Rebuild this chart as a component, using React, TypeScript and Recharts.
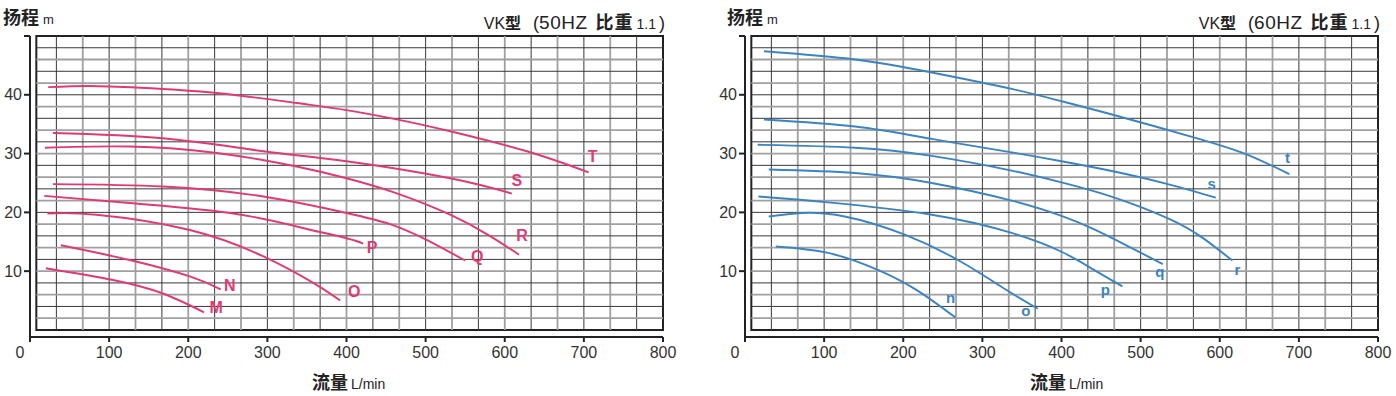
import React from 'react'
import { LineChart, Line, XAxis, YAxis, ReferenceLine, ReferenceArea } from 'recharts'

// flow (L/min) vs head (m)
const curveM = [{ q: 20, h: 10.5 }, { q: 105, h: 8.5 }, { q: 168, h: 6.2 }, { q: 220, h: 3.0 }]
const curveN = [{ q: 39, h: 14.4 }, { q: 126, h: 11.9 }, { q: 202, h: 9.1 }, { q: 241, h: 6.9 }]
const curveO = [{ q: 22, h: 19.8 }, { q: 84, h: 19.6 }, { q: 202, h: 17.0 }, { q: 295, h: 12.5 }, { q: 358, h: 8.0 }, { q: 392, h: 5.0 }]
const curveP = [{ q: 18, h: 22.8 }, { q: 126, h: 21.6 }, { q: 253, h: 19.9 }, { q: 337, h: 17.6 }, { q: 400, h: 15.6 }, { q: 421, h: 14.7 }]
const curveQ = [{ q: 29, h: 24.8 }, { q: 168, h: 24.4 }, { q: 295, h: 22.7 }, { q: 400, h: 19.9 }, { q: 455, h: 18.0 }, { q: 500, h: 15.4 }, { q: 550, h: 11.8 }]
const curveR = [{ q: 19, h: 31.0 }, { q: 126, h: 31.2 }, { q: 236, h: 30.1 }, { q: 337, h: 27.8 }, { q: 400, h: 25.8 }, { q: 460, h: 23.4 }, { q: 531, h: 19.6 }, { q: 581, h: 16.0 }, { q: 618, h: 12.8 }]
const curveS = [{ q: 29, h: 33.5 }, { q: 168, h: 32.6 }, { q: 295, h: 30.4 }, { q: 400, h: 28.7 }, { q: 531, h: 25.8 }, { q: 609, h: 23.2 }]
const curveT = [{ q: 23, h: 41.3 }, { q: 75, h: 41.5 }, { q: 139, h: 41.2 }, { q: 236, h: 40.3 }, { q: 337, h: 38.6 }, { q: 400, h: 37.4 }, { q: 468, h: 35.7 }, { q: 531, h: 33.8 }, { q: 628, h: 30.4 }, { q: 706, h: 26.8 }]

const curve_n = [{ q: 39, h: 14.2 }, { q: 105, h: 13.1 }, { q: 168, h: 10.2 }, { q: 219, h: 6.6 }, { q: 266, h: 2.1 }]
const curve_o = [{ q: 30, h: 19.3 }, { q: 72, h: 19.9 }, { q: 126, h: 19.3 }, { q: 202, h: 16.2 }, { q: 273, h: 11.6 }, { q: 328, h: 7.0 }, { q: 370, h: 3.6 }]
const curve_p = [{ q: 17, h: 22.7 }, { q: 105, h: 21.7 }, { q: 236, h: 19.6 }, { q: 337, h: 16.5 }, { q: 400, h: 13.3 }, { q: 440, h: 10.3 }, { q: 477, h: 7.4 }]
const curve_q = [{ q: 30, h: 27.3 }, { q: 139, h: 26.7 }, { q: 236, h: 25.0 }, { q: 337, h: 22.0 }, { q: 400, h: 19.4 }, { q: 440, h: 17.2 }, { q: 482, h: 14.4 }, { q: 528, h: 11.2 }]
const curve_r = [{ q: 16, h: 31.5 }, { q: 139, h: 31.0 }, { q: 236, h: 29.6 }, { q: 337, h: 27.1 }, { q: 400, h: 25.1 }, { q: 465, h: 22.6 }, { q: 536, h: 18.9 }, { q: 578, h: 15.7 }, { q: 616, h: 11.8 }]
const curve_s = [{ q: 24, h: 35.8 }, { q: 139, h: 34.6 }, { q: 236, h: 32.5 }, { q: 337, h: 30.2 }, { q: 400, h: 28.7 }, { q: 465, h: 27.0 }, { q: 532, h: 24.9 }, { q: 595, h: 22.5 }]
const curve_t = [{ q: 24, h: 47.4 }, { q: 139, h: 46.0 }, { q: 236, h: 43.8 }, { q: 337, h: 41.0 }, { q: 400, h: 38.9 }, { q: 465, h: 36.6 }, { q: 566, h: 32.8 }, { q: 633, h: 29.9 }, { q: 688, h: 26.5 }]

const xTicks = [0, 100, 200, 300, 400, 500, 600, 700, 800]
const yTicks = [10, 20, 30, 40, 50]

// label offsets (px) from the last point of each curve
const curves50 = [
  { name: 'M', data: curveM, dx: 12, dy: -5 },
  { name: 'N', data: curveN, dx: 9, dy: -4 },
  { name: 'O', data: curveO, dx: 14, dy: -9 },
  { name: 'P', data: curveP, dx: 9, dy: 4 },
  { name: 'Q', data: curveQ, dx: 12, dy: -4 },
  { name: 'R', data: curveR, dx: 3, dy: -19 },
  { name: 'S', data: curveS, dx: 5, dy: -13 },
  { name: 'T', data: curveT, dx: 4, dy: -16 },
]
const curves60 = [
  { name: 'n', data: curve_n, dx: -5, dy: -20 },
  { name: 'o', data: curve_o, dx: -12, dy: 2 },
  { name: 'p', data: curve_p, dx: -17, dy: 3 },
  { name: 'q', data: curve_q, dx: -3, dy: 8 },
  { name: 'r', data: curve_r, dx: 5, dy: 9 },
  { name: 's', data: curve_s, dx: -4, dy: -14 },
  { name: 't', data: curve_t, dx: -2, dy: -16 },
]

const FONT = "'Liberation Sans', Arial, 'Noto Sans CJK SC', sans-serif"
const gridX: number[] = []
for (let k = 1; k < 24; k++) gridX.push((k * 100) / 3)
const gridY: number[] = []
for (let v = 2; v < 50; v += 2) gridY.push(v)

const XTick = ({ x, y, payload }: any) => (
  <text x={payload.value === 0 ? x - 10 : x} y={y} dy="0.71em" textAnchor="middle" fontSize={16} fill="#333" fontFamily={FONT}>
    {payload.value}
  </text>
)

const YTick = ({ x, y, payload }: any) =>
  payload.value === 50 ? <g /> : (
    <text x={x} y={y} dy="0.355em" textAnchor="end" fontSize={16} fill="#333" fontFamily={FONT}>
      {payload.value}
    </text>
  )

const makeEndLabel = (len: number, text: string, dx: number, dy: number, color: string, bold: boolean) =>
  (props: any) => {
    if (props.index !== len - 1) return null
    return (
      <text
        key={text}
        x={props.x + dx}
        y={props.y + dy}
        dy="0.35em"
        textAnchor="middle"
        fontSize={bold ? 16 : 15}
        fontWeight={700}
        fill={color}
        fontFamily={FONT}
      >
        {text}
      </text>
    )
  }

interface PumpChartProps {
  curves: { name: string; data: { q: number; h: number }[]; dx: number; dy: number }[]
  color: string
  width: number
  bold: boolean
}

const PumpChart: React.FC<PumpChartProps> = ({ curves, color, width, bold }) => (
  <LineChart width={width} height={396} margin={{ top: 36, right: width - 663, left: 0, bottom: 29 }}>
    <XAxis
      type="number"
      dataKey="q"
      domain={[0, 800]}
      ticks={xTicks}
      allowDataOverflow
      axisLine={{ stroke: '#222', strokeWidth: 2 }}
      tickLine={{ stroke: '#222', strokeWidth: 2 }}
      tickSize={5}
      tickMargin={5}
      height={30}
      tick={<XTick />}
    />
    <YAxis
      type="number"
      dataKey="h"
      domain={[-1.2, 50]}
      ticks={yTicks}
      allowDataOverflow
      axisLine={{ stroke: '#222', strokeWidth: 2 }}
      tickLine={{ stroke: '#222', strokeWidth: 2 }}
      tickSize={6}
      tickMargin={2}
      width={30}
      tick={<YTick />}
    />
    {gridX.map((v, i) => (
      <ReferenceLine
        key={'gx' + i}
        segment={[{ x: v, y: 0 }, { x: v, y: 50 }]}
        stroke={i % 2 === 0 ? '#383838' : '#a0a0a0'}
        strokeWidth={i % 2 === 0 ? 1 : 1.8}
      />
    ))}
    {gridY.map((v) => (
      <ReferenceLine
        key={'gy' + v}
        segment={[{ x: 8, y: v }, { x: 800, y: v }]}
        stroke={v % 4 === 0 ? '#383838' : '#a0a0a0'}
        strokeWidth={v % 4 === 0 ? 1 : 1.8}
      />
    ))}
    <ReferenceArea x1={8} x2={800} y1={0} y2={50} fill="none" fillOpacity={0} stroke="#222" strokeWidth={2} />
    {curves.map((c) => (
      <Line
        key={c.name}
        data={c.data}
        dataKey="h"
        type="natural"
        stroke={color}
        strokeWidth={1.9}
        dot={false}
        activeDot={false}
        isAnimationActive={false}
        label={makeEndLabel(c.data.length, c.name, c.dx, c.dy, color, bold)}
      />
    ))}
  </LineChart>
)

const Header: React.FC<{ left: number; right: number; hz: string }> = ({ left, right, hz }) => (
  <>
    <div style={{ position: 'absolute', left: left + 3, top: 3, fontFamily: FONT, color: '#222', whiteSpace: 'nowrap' }}>
      <span style={{ fontSize: 18, fontWeight: 700 }}>扬程</span>
      <span style={{ fontSize: 13, marginLeft: 4 }}>m</span>
    </div>
    <div style={{ position: 'absolute', left: right - 300, width: 300, top: 8, textAlign: 'right', fontFamily: FONT, color: '#222', whiteSpace: 'nowrap', fontSize: 18 }}>
      <span style={{ fontSize: 16 }}>VK</span>
      <span style={{ fontSize: 16, fontWeight: 700 }}>型</span>
      <span style={{ marginLeft: 12 }}>(</span>
      <span style={{ fontSize: 19, letterSpacing: 0.5 }}>{hz}</span>
      <span style={{ fontWeight: 700, marginLeft: 8, letterSpacing: 1 }}>比重</span>
      <span style={{ fontSize: 14, marginLeft: 3 }}>1.1</span>
      <span style={{ marginLeft: 3 }}>)</span>
    </div>
  </>
)

const XTitle: React.FC<{ left: number }> = ({ left }) => (
  <div style={{ position: 'absolute', left, top: 368, fontFamily: FONT, color: '#222', whiteSpace: 'nowrap' }}>
    <span style={{ fontSize: 18, fontWeight: 700 }}>流量</span>
    <span style={{ fontSize: 14, marginLeft: 3 }}>L/min</span>
  </div>
)

export default function App() {
  return (
    <div style={{ position: 'absolute', left: 0, top: 0, width: 1396, height: 396, background: '#fff', overflow: 'hidden' }}>
      <div style={{ position: 'absolute', left: 0, top: 0 }}>
        <PumpChart curves={curves50} color="#e03a72" width={698} bold />
      </div>
      <div style={{ position: 'absolute', left: 715, top: 0 }}>
        <PumpChart curves={curves60} color="#3b84c2" width={681} bold={false} />
      </div>
      <Header left={0} right={665} hz="50HZ" />
      <Header left={724} right={1380} hz="60HZ" />
      <XTitle left={312} />
      <XTitle left={1030} />
    </div>
  )
}
